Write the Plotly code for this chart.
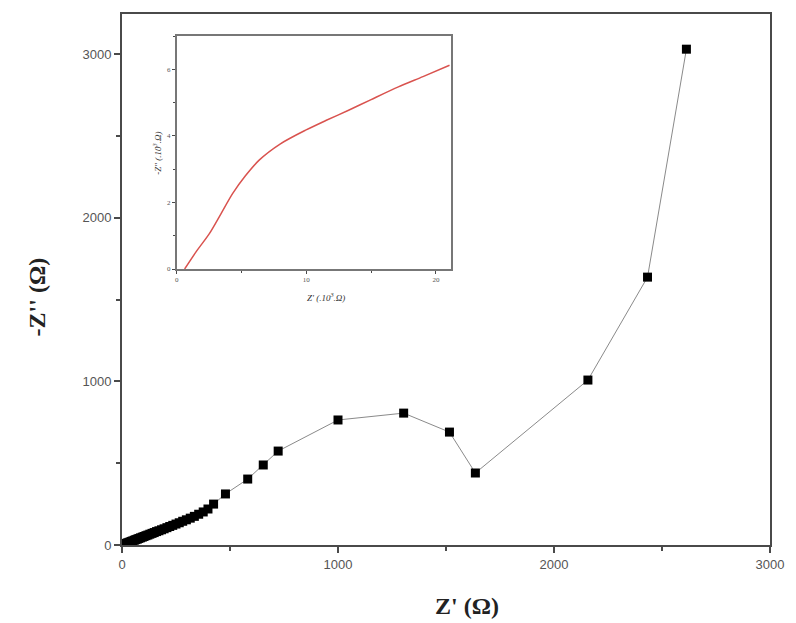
import plotly.graph_objects as go

# Nyquist plot: real vs. negative imaginary impedance (ohm)
z_real = [5, 10, 15, 20, 26, 32, 38, 44, 50, 57, 64, 71, 78, 86, 94, 102,
          111, 120, 129, 139, 149, 160, 171, 183, 195, 208, 221, 235, 250, 265,
          281, 298, 316, 335, 355, 376, 398, 424, 479,
          582, 654, 723, 1000, 1304, 1516, 1636, 2157, 2433, 2613]
z_imag = [3, 5, 8, 10, 13, 16, 19, 22, 25, 29, 33, 36, 40, 44, 48, 52,
          57, 61, 66, 71, 76, 82, 87, 93, 99, 106, 113, 120, 128, 136,
          145, 154, 164, 175, 188, 202, 220, 250, 312,
          403, 489, 574, 764, 806, 690, 440, 1008, 1637, 3030]

# Inset curve (units of 10^3 ohm)
inset_real = [0.61, 1.5, 2.53, 3.4, 4.32, 5.3, 6.36, 8.0, 9.94, 11.5, 13.26, 15.0, 17.1, 19.0, 21.05]
inset_imag = [0.0, 0.52, 1.07, 1.65, 2.27, 2.8, 3.27, 3.76, 4.17, 4.46, 4.77, 5.09, 5.47, 5.78, 6.12]

main_ticks = [0, 1000, 2000, 3000]
inset_xticks = [0, 10, 20]
inset_yticks = [0, 2, 4, 6]

axis_color = "#4a4a4a"
tick_font = dict(family="Liberation Sans, Arial", size=13, color="#555555")
inset_tick_font = dict(family="Liberation Serif", size=7, color="#555555")

# pixel layout of the figure
W, H = 796, 623
ML, MR, MT, MB = 122, 23, 14, 78
plot_w = W - ML - MR
plot_h = H - MT - MB


def px_x(px):
    return (px - ML) / plot_w


def px_y(py):
    return (H - MB - py) / plot_h


fig = go.Figure()

fig.add_trace(go.Scatter(
    x=z_real, y=z_imag, mode="lines+markers",
    line=dict(color="#8a8a8a", width=1),
    marker=dict(symbol="square", size=9, color="black"),
    showlegend=False,
))

fig.add_trace(go.Scatter(
    x=inset_real, y=inset_imag, mode="lines",
    line=dict(color="#d9534f", width=1.5, shape="spline", smoothing=0.8),
    xaxis="x2", yaxis="y2", showlegend=False,
))

fig.update_layout(
    width=W, height=H,
    margin=dict(l=ML, r=MR, t=MT, b=MB),
    paper_bgcolor="white", plot_bgcolor="white",
    xaxis=dict(
        range=[0, 3000], tickvals=main_ticks, ticks="outside", ticklen=6,
        tickwidth=1.5, tickcolor=axis_color, showline=True, linewidth=2,
        linecolor=axis_color, mirror=True, showgrid=False, zeroline=False,
        tickfont=tick_font,
        minor=dict(dtick=500, ticks="outside", ticklen=4, tickcolor=axis_color, showgrid=False),
    ),
    yaxis=dict(
        range=[0, 3245], tickvals=main_ticks, ticks="outside", ticklen=6,
        tickwidth=1.5, tickcolor=axis_color, showline=True, linewidth=2,
        linecolor=axis_color, mirror=True, showgrid=False, zeroline=False,
        tickfont=tick_font,
        minor=dict(dtick=500, ticks="outside", ticklen=4, tickcolor=axis_color, showgrid=False),
    ),
    xaxis2=dict(
        domain=[px_x(177), px_x(453)], anchor="y2", range=[0, 21.2],
        tickvals=inset_xticks, ticks="outside", ticklen=3, tickcolor=axis_color,
        showline=True, linewidth=1.5, linecolor="#777777", mirror=True,
        showgrid=False, zeroline=False, tickfont=inset_tick_font,
        minor=dict(dtick=5, ticks="outside", ticklen=2, tickcolor=axis_color, showgrid=False),
    ),
    yaxis2=dict(
        domain=[px_y(269), px_y(36)], anchor="x2", range=[0, 7],
        tickvals=inset_yticks, ticks="outside", ticklen=3, tickcolor=axis_color,
        showline=True, linewidth=1.5, linecolor="#777777", mirror=True,
        showgrid=False, zeroline=False, tickfont=inset_tick_font,
        minor=dict(dtick=1, ticks="outside", ticklen=2, tickcolor=axis_color, showgrid=False),
    ),
    annotations=[
        dict(text="<b>Z' (Ω)</b>", x=px_x(469), y=px_y(606),
             font=dict(family="Liberation Serif", size=24, color="#222222")),
        dict(text="<b>-Z'' (Ω)</b>", x=px_x(37), y=px_y(297), textangle=-90,
             font=dict(family="Liberation Serif", size=24, color="#222222")),
        dict(text="<i>Z' (.10<sup>3</sup>.Ω)</i>", x=px_x(327), y=px_y(297),
             font=dict(family="Liberation Serif", size=9, color="#333333")),
        dict(text="<i>-Z'' (.10<sup>3</sup>.Ω)</i>", x=px_x(157), y=px_y(153), textangle=-90,
             font=dict(family="Liberation Serif", size=9, color="#333333")),
    ],
)
fig.update_annotations(xref="paper", yref="paper", showarrow=False,
                       xanchor="center", yanchor="middle")

fig.write_html("out.html")
